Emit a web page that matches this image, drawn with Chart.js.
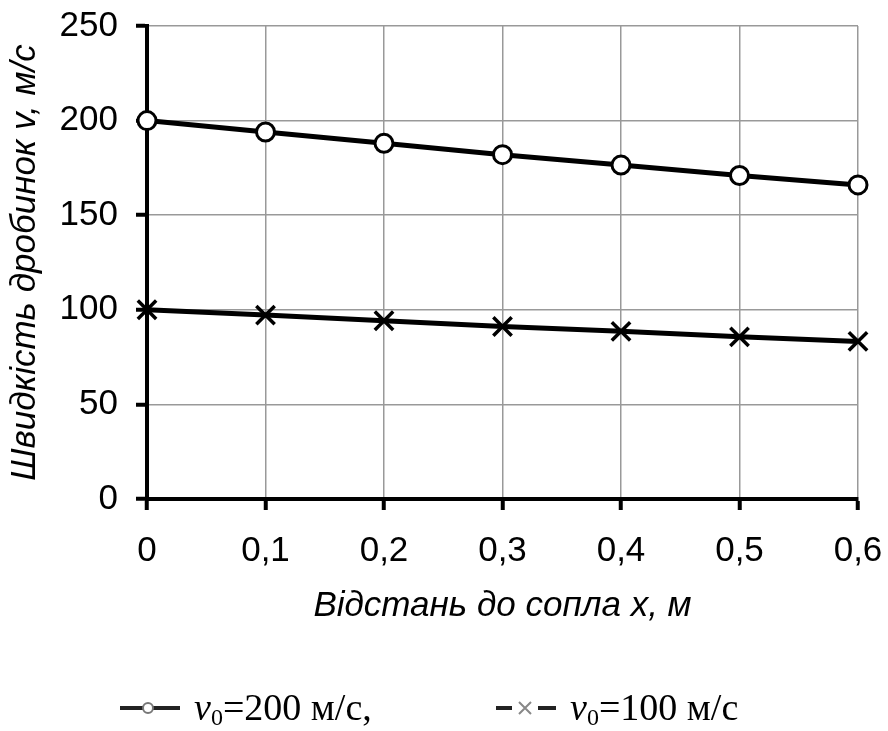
<!DOCTYPE html>
<html lang="uk">
<head>
    <meta charset="UTF-8">
    <title>Швидкість дробинок</title>
    <script src="https://cdn.jsdelivr.net/npm/chart.js"></script>
    <style>
        body { margin: 0; background: #fff; }
        #wrap { position: relative; width: 888px; height: 731px; }
        #legend {
            position: absolute; left: 0; top: 684px; width: 888px;
            font-family: "Liberation Serif", "Times New Roman", serif; font-size: 38px; color: #000;
        }
        .item { position: absolute; top: 0; white-space: nowrap; line-height: 46px; }
        .item svg { vertical-align: middle; margin-right: 14px; position: relative; top: -3px; }
        sub { font-size: 24px; vertical-align: -5px; }
    </style>
</head>
<body>
<div id="wrap">
    <canvas id="chart" width="888" height="731"></canvas>
    <div id="legend">
        <span class="item" style="left:120px">
            <svg width="60" height="20"><line x1="0" y1="10" x2="60" y2="10" stroke="#222" stroke-width="4"/><circle cx="28" cy="10" r="5" fill="#fff" stroke="#777" stroke-width="2"/></svg><i>v</i><sub>0</sub>=200 м/с,
        </span>
        <span class="item" style="left:496px">
            <svg width="60" height="20"><line x1="0" y1="10" x2="16" y2="10" stroke="#222" stroke-width="4"/><line x1="42" y1="10" x2="60" y2="10" stroke="#222" stroke-width="4"/><path d="M23 4 L35 16 M35 4 L23 16" stroke="#888" stroke-width="2"/></svg><i>v</i><sub>0</sub>=100 м/с
        </span>
    </div>
</div>
<script>
    // distance to nozzle, m
    const distances = [0, 0.1, 0.2, 0.3, 0.4, 0.5, 0.6];
    // particle speed for v0 = 200 m/s and v0 = 100 m/s
    const speed200 = [200, 194, 188, 182, 176.5, 171, 166];
    const speed100 = [100, 97.2, 94.2, 91.2, 88.6, 85.7, 83.3];

    const toPoints = vals => distances.map((x, i) => ({ x: x, y: vals[i] }));

    const tickFont = { family: 'Arial, "Liberation Sans"', size: 35 };
    const titleFont = { family: 'Arial, "Liberation Sans"', size: 35, style: 'italic' };

    const ctx = document.getElementById('chart').getContext('2d');
    new Chart(ctx, {
        type: 'line',
        data: {
            datasets: [{
                label: 'v0=200 м/с',
                data: toPoints(speed200),
                borderColor: '#000',
                borderWidth: 5,
                pointStyle: 'circle',
                pointRadius: 9,
                pointBorderWidth: 3,
                pointBackgroundColor: '#fff',
                pointBorderColor: '#000',
                clip: false
            }, {
                label: 'v0=100 м/с',
                data: toPoints(speed100),
                borderColor: '#000',
                borderWidth: 5,
                pointStyle: 'crossRot',
                pointRadius: 13,
                pointBorderWidth: 3.5,
                pointBorderColor: '#000',
                clip: false
            }]
        },
        options: {
            responsive: false,
            animation: false,
            layout: { padding: { top: 26, right: 30, bottom: 100, left: 0 } },
            plugins: { legend: { display: false }, tooltip: { enabled: false } },
            scales: {
                x: {
                    type: 'linear',
                    min: 0, max: 0.6,
                    afterFit: s => { s.height = 132; s.paddingLeft = 0; s.paddingRight = 0; },
                    ticks: {
                        stepSize: 0.1,
                        color: '#000',
                        padding: 20,
                        font: tickFont,
                        callback: v => String(Math.round(v * 10) / 10).replace('.', ',')
                    },
                    grid: { color: '#999', lineWidth: 1.5, tickLength: 11, tickColor: '#000', tickWidth: 4 },
                    border: { color: '#000', width: 4 },
                    title: { display: true, text: 'Відстань до сопла x, м', color: '#000', font: titleFont }
                },
                y: {
                    min: 0, max: 250,
                    afterFit: s => { s.width = 147; s.paddingTop = 0; s.paddingBottom = 0; },
                    ticks: { stepSize: 50, color: '#000', padding: 18, font: tickFont },
                    grid: { color: '#999', lineWidth: 1.5, tickLength: 11, tickColor: '#000', tickWidth: 4 },
                    border: { color: '#000', width: 4 },
                    title: { display: true, text: 'Швидкість дробинок v, м/с', color: '#000', font: titleFont }
                }
            }
        }
    });
</script>
</body>
</html>
